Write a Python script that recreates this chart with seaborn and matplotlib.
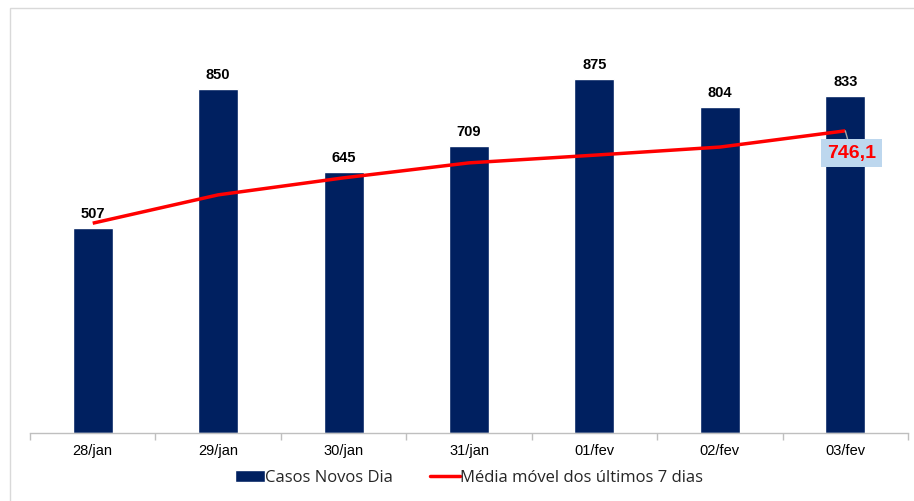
import matplotlib
matplotlib.use("Agg")
import matplotlib.pyplot as plt
import seaborn as sns
import pandas as pd
from matplotlib.patches import Rectangle
from matplotlib.lines import Line2D

categorias = ["28/jan", "29/jan", "30/jan", "31/jan", "01/fev", "02/fev", "03/fev"]
casos = [507, 850, 645, 709, 875, 804, 833]
media = [518, 588, 630, 667, 686, 706, 746.1]

df = pd.DataFrame({"dia": categorias, "casos": casos})

sns.set_theme(style="white")
plt.rcParams["font.family"] = ["Liberation Sans", "DejaVu Sans"]

fig = plt.figure(figsize=(9.14, 5.01), dpi=100)
ax = fig.add_axes([30/914, 1-433/501, 878/914, 405/501])

bar_color = "#002060"
sns.barplot(data=df, x="dia", y="casos", color=bar_color, width=0.32,
            saturation=1, ax=ax)
ax.plot(range(len(categorias)), media, color="#FF0000", lw=2.5, solid_capstyle="butt")

ax.set_ylim(0, 1000)
ax.set_xlim(-0.5, len(categorias)-0.5)
ax.set_xlabel("")
ax.set_ylabel("")
ax.set_yticks([])
for s in ["top", "right", "left"]:
    ax.spines[s].set_visible(False)
ax.spines["bottom"].set_color("#BFBFBF")
ax.spines["bottom"].set_linewidth(1)
ax.tick_params(axis="x", which="major", length=0, labelsize=10.5, pad=8, colors="black")
ax.set_xticks([i-0.5 for i in range(len(categorias)+1)], minor=True)
ax.tick_params(axis="x", which="minor", bottom=True, length=5, color="#BFBFBF",
               width=1, direction="out")

for i, v in enumerate(casos):
    ax.annotate(f"{v}", (i, v), xytext=(0, 5), textcoords="offset points",
                ha="center", va="bottom", fontsize=10.5, fontweight="bold", color="black")

# label for last moving average value
last = len(media) - 1
ax.annotate(f"{media[-1]:.1f}".replace(".", ","), (last, media[-1]),
            xytext=(last + 0.05, media[-1] - 55), textcoords="data",
            ha="center", va="center", fontsize=14, fontweight="bold", color="#FF0000",
            bbox=dict(boxstyle="square,pad=0.3", fc="#BDD7EE", ec="none"),
            arrowprops=dict(arrowstyle="-", color="#A6A6A6", lw=1, shrinkA=0, shrinkB=0))

# legend
handles = [Rectangle((0, 0), 1, 1, fc=bar_color),
           Line2D([0], [0], color="#FF0000", lw=2.5)]
fig.legend(handles, ["Casos Novos Dia", "Média móvel dos últimos 7 dias"],
           loc="center", bbox_to_anchor=(469/914, 1-478/501), ncol=2, frameon=False,
           prop={"family": ["Open Sans", "DejaVu Sans"], "size": 12},
           handlelength=1.8, handletextpad=0.0, columnspacing=2.2)

# outer frame
fig.patches.append(Rectangle((10/914, -0.01), 1.0, 1-8/501+0.01, transform=fig.transFigure,
                             fill=False, ec="#D9D9D9", lw=1))

fig.savefig("out.png", dpi=100)
